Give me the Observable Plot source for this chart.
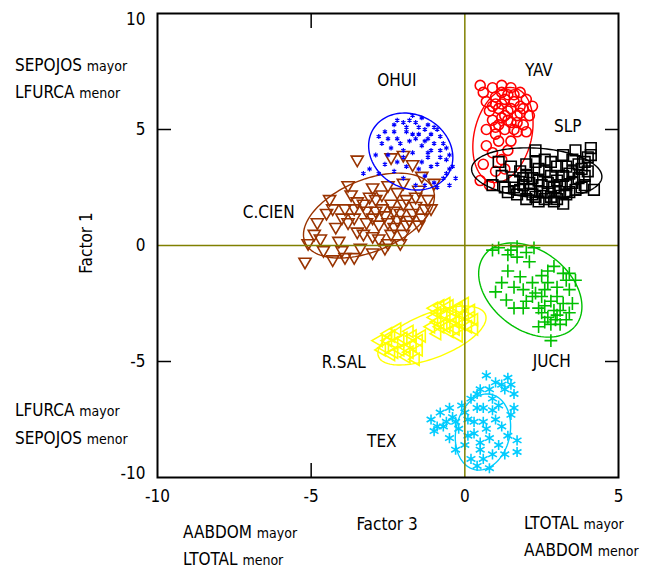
<!DOCTYPE html>
<html><head><meta charset="utf-8">
<script src="https://cdn.jsdelivr.net/npm/d3@7"></script>
<script src="https://cdn.jsdelivr.net/npm/@observablehq/plot@0.6"></script>
<style>
body{margin:0;background:#fff}
#chart{position:relative;width:647px;height:571px}
</style>
</head><body><div id="chart"></div>
<script>
// ---- data ----
const groups = ["C.CIEN","OHUI","YAV","SLP","JUCH","R.SAL","TEX"];
const colors = ["#993300","#0000ff","#ff0000","#000000","#00c000","#ffff00","#00ccff"];

const cCien = [[-5.2,-0.7],[-5.1,0.1],[-4.9,0.5],[-4.8,1.0],[-4.6,-0.2],[-4.5,1.4],[-4.4,2.0],[-4.2,0.8],[-4.1,0.2],[-3.9,1.6],[-3.9,-0.5],[-3.8,2.6],[-3.7,2.2],[-3.6,1.2],[-3.5,0.6],[-3.4,-0.1],[-3.3,1.8],[-3.2,1.0],[-3.1,2.1],[-3.0,0.4],[-2.9,1.5],[-2.8,0.9],[-2.7,2.2],[-2.6,1.3],[-2.5,0.1],[-2.4,1.8],[-2.3,0.8],[-2.2,2.3],[-2.1,1.4],[-2.0,0.5],[-1.9,2.0],[-1.8,1.1],[-1.6,1.7],[-1.5,2.4],[-1.4,1.2],[-1.2,2.0],[-1.0,2.7],[-2.4,3.8],[-1.7,3.5],[-3.6,-0.5],[-2.6,-0.1],[-4.3,-0.6],
  [-3.8,1.0],[-3.5,1.9],[-3.3,0.5],[-3.2,1.5],[-3.0,1.2],[-2.9,2.0],[-2.8,0.3],[-2.7,1.6],[-2.5,1.0],[-2.4,0.5],[-2.3,1.5],[-2.2,1.1],[-2.0,1.8],[-1.9,0.9],[-1.7,1.4],[-1.6,2.1],[-1.5,0.9],[-1.3,1.6],[-3.6,1.6],[-4.0,1.2],[-4.3,1.6],[-3.0,2.5],[-2.5,2.6],[-2.0,2.7],[-1.1,1.6],[-3.5,3.7],[-2.0,3.9],[-1.4,3.0],[-4.7,0.3],[-4.0,-0.2],[-3.0,-0.3],[-2.1,0.1]];
const ohui = [[-2.6,4.9],[-2.3,5.2],[-2.0,5.3],[-1.8,5.4],[-1.5,5.1],[-1.3,5.0],[-1.1,4.8],[-1.9,4.9],[-2.2,4.6],[-1.6,4.6],[-1.4,4.3],[-1.0,4.4],[-0.8,4.1],[-0.6,3.7],[-0.5,3.3],[-0.7,2.9],[-0.9,3.5],[-1.2,3.8],[-1.7,4.0],[-2.0,3.8],[-2.4,4.2],[-2.7,4.4],[-2.9,3.9],[-2.6,3.5],[-2.3,3.2],[-1.9,3.4],[-1.5,3.3],[-1.3,3.0],[-1.0,2.7],[-1.6,2.6],[-2.0,2.9],[-2.8,3.1],[-3.1,3.3],[-1.2,4.6],[-0.9,5.0],[-1.7,4.8],[-2.1,4.4],[-0.7,4.4],[-3.3,3.1],
  [-1.9,5.1],[-1.6,5.3],[-1.4,5.5],[-1.2,5.2],[-1.0,5.1],[-0.8,4.7],[-0.6,4.2],[-1.1,4.1],[-1.3,4.5],[-1.5,4.8],[-1.8,4.5],[-2.0,4.1],[-2.3,4.9],[-2.5,4.6],[-0.5,3.9],[-0.4,3.4],[-0.6,3.1],[-0.8,3.8],[-1.1,3.4],[-1.4,3.6],[-2.2,3.6],[-2.5,3.9],[-2.8,4.7],[-0.9,2.5],[-1.3,2.6],[-0.3,2.9],[-0.5,2.6],[-1.7,5.6],[-2.2,5.4],[-1.2,4.0]];
const yav = [[0.6,6.6],[0.9,6.8],[1.2,6.9],[1.5,6.8],[1.8,6.6],[2.0,6.3],[0.7,6.2],[1.0,6.4],[1.3,6.3],[1.6,6.2],[1.9,5.9],[2.1,5.6],[0.8,5.8],[1.1,5.9],[1.4,5.8],[1.7,5.6],[0.9,5.4],[1.2,5.5],[1.5,5.3],[1.9,5.2],[0.7,5.0],[1.0,5.1],[1.3,5.0],[1.7,4.9],[2.0,4.9],[1.1,4.5],[0.9,4.0],[1.4,4.1],[0.6,3.5],[1.0,3.2],[0.5,2.8],[1.3,3.3],[0.8,2.6],
  [1.0,6.1],[1.2,6.6],[1.4,6.5],[1.6,6.5],[1.8,6.0],[1.3,5.6],[1.5,5.9],[1.7,5.3],[1.1,5.2],[0.9,6.0],[1.4,5.4],[1.6,5.0],[1.2,6.1],[1.8,5.7],[2.2,6.0],[0.5,6.9],[1.0,4.8],[1.5,4.5],[0.7,4.3],[1.2,3.7]];
const slp = [[0.9,2.6],[1.1,3.6],[1.2,3.0],[1.4,2.3],[1.5,3.4],[1.6,2.8],[1.7,2.2],[1.8,3.2],[1.9,2.6],[2.0,3.5],[2.1,2.4],[2.2,2.9],[2.3,4.1],[2.3,2.1],[2.4,3.3],[2.5,2.6],[2.6,3.7],[2.7,2.3],[2.8,3.0],[2.9,1.9],[3.0,3.4],[3.1,2.6],[3.2,3.9],[3.3,2.2],[3.4,3.1],[3.5,2.7],[3.6,4.1],[3.7,3.5],[3.8,2.5],[3.9,3.0],[4.0,3.8],[4.1,4.2],[4.2,2.4],[3.0,2.0],[2.0,2.0],[1.3,2.5],[3.5,3.7],[2.6,2.0],
  [1.6,2.5],[1.9,2.9],[2.1,2.7],[2.2,2.2],[2.4,2.8],[2.5,2.3],[2.7,2.7],[2.8,2.1],[2.9,2.5],[3.0,2.8],[3.1,2.3],[3.2,3.0],[3.3,2.6],[3.4,2.3],[3.5,3.2],[3.6,2.4],[3.7,2.9],[3.8,3.3],[3.9,2.6],[4.0,3.2],[2.0,3.0],[2.3,3.6],[2.6,3.2],[2.8,3.6],[3.3,3.4],[1.8,2.4],[2.4,1.9],[3.2,1.8],[3.9,3.6],[4.1,3.9]];
const juch = [[0.9,-0.2],[1.1,-0.1],[1.4,-0.4],[1.7,-0.05],[1.7,-0.5],[2.1,-0.7],[2.25,-0.1],[1.2,-1.6],[1.4,-1.1],[1.8,-1.35],[1.9,-1.9],[1.35,-2.35],[1.6,-2.7],[2.0,-2.4],[2.3,-2.05],[2.5,-1.3],[2.7,-1.6],[2.9,-0.9],[3.2,-1.2],[3.3,-1.5],[3.6,-1.5],[3.4,-1.9],[3.0,-2.2],[2.6,-2.6],[2.7,-3.1],[2.95,-3.2],[3.3,-3.2],[3.1,-2.8],[2.4,-3.5],[2.8,-4.1],[2.5,-2.9],[3.5,-2.5],[2.2,-1.6],
  [2.5,-2.2],[2.6,-1.9],[2.8,-2.4],[2.9,-2.8],[3.0,-3.0],[3.1,-3.4],[3.2,-2.5],[2.8,-3.4],[3.4,-2.9],[2.4,-2.7],[2.6,-3.3],[3.0,-1.8],[2.2,-2.2],[1.9,-2.7],[1.5,-0.2],[2.0,-0.3],[1.6,-1.8],[1.0,-2.0],[3.4,-1.2],[2.7,-1.1]];
const rSal = [[-2.8,-4.1],[-2.6,-4.4],[-2.5,-3.8],[-2.4,-4.7],[-2.3,-4.2],[-2.2,-3.6],[-2.1,-4.5],[-2.0,-4.0],[-1.9,-4.8],[-1.8,-3.7],[-1.7,-4.3],[-1.6,-4.9],[-1.5,-4.1],[-1.4,-3.9],[-1.1,-3.5],[-1.0,-3.1],[-0.9,-3.8],[-0.8,-2.6],[-0.7,-3.4],[-0.6,-3.0],[-0.5,-3.7],[-0.4,-2.8],[-0.3,-3.3],[-0.2,-3.9],[-0.1,-3.0],[0.0,-2.5],[0.1,-3.5],[0.2,-3.1],[0.3,-3.6],[-0.6,-2.5],[-0.9,-3.3],[-0.2,-2.7],
  [-2.7,-4.5],[-2.5,-4.1],[-2.3,-4.6],[-2.1,-4.1],[-1.9,-4.4],[-1.7,-3.9],[-1.5,-4.5],[-1.8,-4.6],[-2.4,-3.9],[-0.9,-2.9],[-0.7,-3.0],[-0.6,-3.5],[-0.4,-3.1],[-0.3,-3.6],[-0.1,-3.4],[0.0,-3.0],[0.2,-2.8],[-0.5,-2.6],[-0.8,-3.5],[-1.0,-2.7],[0.3,-3.2],[-0.2,-3.2]];
const tex = [[-1.1,-7.5],[-1.0,-8.0],[-0.8,-7.2],[-0.7,-7.8],[-0.5,-8.3],[-0.4,-7.4],[-0.2,-7.9],[-0.1,-6.9],[0.0,-8.6],[0.1,-7.5],[0.2,-9.2],[0.2,-6.6],[0.3,-8.1],[0.4,-7.0],[0.5,-8.8],[0.5,-6.2],[0.6,-7.6],[0.7,-5.6],[0.8,-8.3],[0.8,-9.6],[0.9,-6.6],[0.9,-7.1],[1.0,-5.9],[1.1,-8.6],[1.2,-7.8],[1.3,-6.2],[1.3,-9.0],[1.4,-5.7],[1.5,-7.3],[1.6,-6.4],[1.7,-8.4],[1.7,-8.9],[0.4,-9.5],[-0.3,-8.8],
  [0.6,-7.0],[0.7,-7.9],[0.3,-7.6],[0.1,-8.2],[-0.3,-7.6],[-0.6,-7.6],[-0.9,-7.8],[0.5,-8.5],[1.0,-7.5],[1.1,-6.9],[1.2,-6.0],[1.5,-6.0],[0.8,-6.2],[0.6,-9.2],[0.9,-9.0],[1.4,-8.2],[1.6,-7.0],[0.0,-7.2],[-0.5,-7.0],[0.4,-6.4]];

// group label positions (data units)
const labelX = [-6.38,-2.21,2.41,3.35,2.83,-3.94,-2.70];
const labelY = [1.44,7.13,7.56,5.11,-5.02,-5.06,-8.43];

// ellipse parameters: centre, half-extent in x and y, correlation (tilt)
const ellCx  = [-3.12,-1.76,1.24,2.34,2.13,-1.07,0.59];
const ellCy  = [1.29,4.05,4.76,3.13,-1.92,-3.88,-8.04];
const ellAx  = [2.13,1.37,0.98,2.12,1.68,1.76,0.90];
const ellAy  = [1.83,1.66,2.05,1.08,2.03,1.27,1.64];
const ellRho = [0.45,-0.15,0.25,-0.15,-0.35,0.6,0.15];

const xTicks = [-10,-5,0,5];
const yTicks = [5,0,-5];

// ---- build tables ----
const series = [cCien, ohui, yav, slp, juch, rSal, tex];
const symbols = ["triangle","asterisk","circle","square","plus","triangle","asterisk"];
const rot = [180,0,0,0,0,-90,0];
const rad = [4.5,2.3,5,6,4.2,4.5,4.8];

const pts = [];
series.forEach((arr, gi) => arr.forEach(([x,y]) => pts.push({g: groups[gi], x, y, gi})));

const ell = [];
groups.forEach((g, gi) => {
  const s = Math.sqrt(1 - ellRho[gi]*ellRho[gi]);
  d3.range(0, 360, 3).forEach(deg => {
    const t = deg * Math.PI / 180;
    ell.push({g, gi,
      x: ellCx[gi] + ellAx[gi]*Math.cos(t),
      y: ellCy[gi] + ellAy[gi]*(ellRho[gi]*Math.cos(t) + s*Math.sin(t))});
  });
});

const labels = groups.map((g, i) => ({g, x: labelX[i], y: labelY[i]}));
const font = "'DejaVu Sans Condensed','Liberation Sans Narrow','DejaVu Sans',sans-serif";

const marks = [];
groups.forEach((g, gi) => {
  marks.push(Plot.line(ell.filter(d => d.gi === gi), {x: "x", y: "y", stroke: colors[gi], strokeWidth: 1.4, curve: "linear-closed"}));
  marks.push(Plot.dot(pts.filter(d => d.gi === gi), {x: "x", y: "y", symbol: () => symbols[gi], r: rad[gi], rotate: rot[gi], stroke: colors[gi], fill: "none", strokeWidth: gi === 1 ? 1.2 : 1.6}));
});

const tickFmt = d => String(d);
const plot = Plot.plot({
  width: 647, height: 571,
  marginLeft: 157, marginRight: 29, marginTop: 13, marginBottom: 94,
  style: {fontFamily: font, fontSize: "17px", color: "#000", background: "#fff"},
  x: {domain: [-10, 5]},
  y: {domain: [-10, 10]},
  symbol: {type: "identity"},
  marks: [
    ...marks,
    Plot.ruleX([0], {stroke: "#808000", strokeWidth: 1.5}),
    Plot.ruleY([0], {stroke: "#808000", strokeWidth: 1.5}),
    Plot.frame({stroke: "#000", strokeWidth: 2}),
    Plot.axisY({anchor: "left", ticks: yTicks, tickSize: 0, tickPadding: 12, tickFormat: tickFmt, fontSize: 17, label: null}),
    Plot.axisY({anchor: "left", ticks: [10], tickSize: 0, tickPadding: 12, tickFormat: tickFmt, fontSize: 17, dy: 6, label: null}),
    Plot.axisY({anchor: "left", ticks: [-10], tickSize: 0, tickPadding: 12, tickFormat: tickFmt, fontSize: 17, dy: -4, label: null}),
    Plot.axisY({anchor: "left", ticks: [5,-5], tickSize: -14, tickFormat: () => "", label: null, strokeWidth: 1.5}),
    Plot.axisY({anchor: "right", ticks: [5,-5], tickSize: -14, tickFormat: () => "", label: null, strokeWidth: 1.5}),
    Plot.axisX({anchor: "bottom", ticks: xTicks, tickSize: 0, tickPadding: 12, tickFormat: tickFmt, fontSize: 17, label: null}),
    Plot.axisX({anchor: "bottom", ticks: [-5], tickSize: -14, tickFormat: () => "", label: null, strokeWidth: 1.5}),
    Plot.axisX({anchor: "top", ticks: [-5], tickSize: -14, tickFormat: () => "", label: null, strokeWidth: 1.5}),
    Plot.text(labels, {x: "x", y: "y", text: "g", fontSize: 17, fill: "#000"})
  ]
});

document.getElementById("chart").appendChild(plot);

// axis titles and corner annotations
const svg = d3.select(plot);
svg.append("text").attr("transform", "translate(92,243) rotate(-90)")
  .attr("text-anchor", "middle").attr("font-size", 17).attr("fill", "#000").text("Factor 1");
svg.append("text").attr("x", 387).attr("y", 530)
  .attr("text-anchor", "middle").attr("font-size", 17).attr("fill", "#000").text("Factor 3");

const notes = [
  ["SEPOJOS","mayor",15,71],["LFURCA","menor",15,98],
  ["LFURCA","mayor",15,416],["SEPOJOS","menor",15,444],
  ["AABDOM","mayor",183,538],["LTOTAL","menor",183,565],
  ["LTOTAL","mayor",524,529],["AABDOM","menor",524,556]
];
notes.forEach(([a,b,x,y]) => {
  const t = svg.append("text").attr("x", x).attr("y", y).attr("fill", "#000").attr("text-anchor", "start");
  t.append("tspan").attr("font-size", 17).text(a + " ");
  t.append("tspan").attr("font-size", 14).text(b);
});
</script>
</body></html>
